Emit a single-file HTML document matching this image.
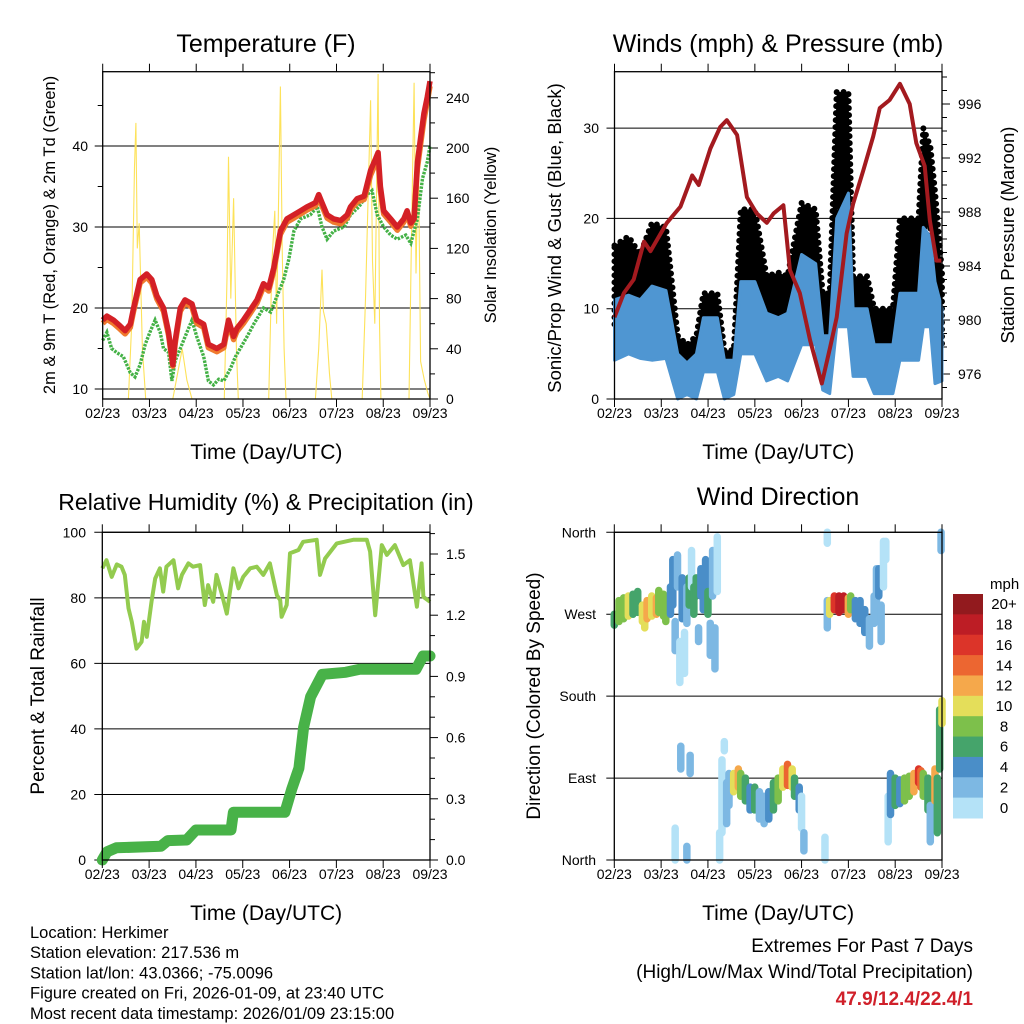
<!DOCTYPE html>
<html><head><meta charset="utf-8"><style>
html,body{margin:0;padding:0;background:#fff}
svg{display:block;font-family:"Liberation Sans",sans-serif}
</style></head><body>
<svg id="chart" width="1024" height="1024" viewBox="0 0 1024 1024">
<g id="layer"></g>
</svg>
<script>
// ---------- DATA ----------
const dayLabels=["02/23","03/23","04/23","05/23","06/23","07/23","08/23","09/23"];
const tRedDays=[0,.09,.23,.37,.48,.59,.66,.8,.94,1.05,1.16,1.3,1.41,1.5,1.55,1.66,1.76,1.91,2.01,2.16,2.26,2.44,2.59,2.69,2.8,2.87,3.01,3.16,3.3,3.44,3.55,3.66,3.8,3.94,4.09,4.23,4.37,4.55,4.62,4.69,4.8,4.94,5.09,5.23,5.3,5.44,5.59,5.73,5.84,5.89,5.94,6.01,6.16,6.3,6.44,6.51,6.59,6.66,6.73,6.8,6.87,6.94,7.0];
const tRedVals=[18.5,19,18.5,17.8,17.2,18,20,23.5,24.2,23.5,21.5,20,17,13,16,20,21,20.5,18.5,18,15.5,15,15.5,18.5,16.5,17.5,18.5,19.8,21,23,22.5,25,29.5,31,31.5,32,32.5,33,34,33,31.5,31,30.8,31.5,32.5,33.5,33.8,37,38.5,39.2,35,32,31,30,31,32,30.5,31,38,41,44,46,48];
const tOrangeVals=[18.1,18.6,18.1,17.4,16.8,17.6,19.6,23.1,23.8,23.1,21.1,19.6,16.6,12.8,15.6,19.6,20.6,20.1,18.1,17.6,15.1,14.6,15.1,18.1,16.1,17.1,18.1,19.4,20.6,22.6,22.1,24.6,29.1,30.6,31.1,31.6,32.1,32.6,33.6,32.6,31.1,30.6,30.4,31.1,32.1,33.1,33.4,36.4,37.9,38.4,34.4,31.6,30.6,29.6,30.6,31.6,30.1,31.4,37.2,40.2,43.2,45.4,47.4];
const tdDays=[0,.09,.19,.3,.44,.59,.69,.8,.91,1.01,1.12,1.23,1.3,1.41,1.48,1.55,1.66,1.8,1.91,2.01,2.16,2.26,2.37,2.48,2.59,2.73,2.84,2.94,3.09,3.23,3.44,3.59,3.73,3.87,3.98,4.09,4.23,4.44,4.59,4.69,4.8,4.94,5.16,5.3,5.48,5.66,5.76,5.87,6.01,6.16,6.3,6.48,6.59,6.73,6.84,6.94,7.0];
const tdVals=[16,17,15,14.5,14,12,11.5,13,15.5,17,18.5,17,15,14.5,11,13.5,15,17,18.5,16.5,14,11,10.5,11.2,11,12.5,14,15,16.5,18,20,19.5,21.5,23.5,26,29.5,31,31.5,32.5,30,28.5,29.5,30,31.5,32.5,34,34.5,31.5,30,29,28.5,29,28,31,36,38,40];
const solarDays=[0,.55,.62,.68,.71,.74,.78,.85,.92,1.5,1.6,1.7,1.8,1.91,2.6,2.66,2.69,2.74,2.8,2.86,2.9,3.55,3.62,3.68,3.72,3.8,3.84,3.88,3.92,4.55,4.62,4.69,4.72,4.78,4.85,4.9,5.55,5.62,5.73,5.77,5.82,5.89,5.92,5.95,6.55,6.6,6.66,6.7,6.75,6.8,6.88,6.95,7.0];
const solarVals=[0,0,60,185,220,120,140,40,0,0,20,40,15,0,0,100,193,80,160,40,0,0,110,150,60,249,120,40,0,0,40,103,70,60,20,0,0,80,238,110,60,259,60,0,0,120,252,100,200,30,15,5,0];
const windDays=[0,0.3,0.55,0.8,1.1,1.35,1.55,1.75,1.9,2.2,2.35,2.55,2.7,3.0,3.25,3.5,3.7,4.0,4.3,4.45,4.6,4.75,5.0,5.1,5.4,5.55,5.95,6.1,6.5,6.6,6.75,6.85,7.0];
const windLow=[4.3,5,4.5,4.3,4.5,0,0.5,0,3,3,0,0.5,5,5,2,2.5,2,6,6,1,0.6,8,8,2.5,2.5,0.6,0.6,4.3,4.3,8,8,1.7,2];
const windHigh=[11,11.5,11,12.5,12,5,4,5,9,9,4.3,4.3,13,13,9.5,9,9.5,16,15,7,7,20,22.8,10,10,6,6,11.7,11.7,19,18,13,10];
const gustLow=[8,9,8,10,10,0.6,1,0.6,6,6,2,2,11.7,11.7,6,6.5,6,8,8,2.5,2.5,21,21,4.3,4.3,2.5,2.5,8.8,8.8,19,19,8,6];
const gustHigh=[17,18,16,19.5,19,7,6,7,11.7,11.7,5.4,5.4,21,21,13.6,14,13.6,21.7,21,11.7,11.7,34,34,13.6,13.6,10,10,20,20,30,28,23,14];
const presDays=[0,.2,.41,.63,.77,1.12,1.41,1.66,1.8,2.05,2.26,2.4,2.62,2.83,3.04,3.255,3.4,3.61,3.75,3.96,4.18,4.43,4.61,4.75,4.96,5.1,5.32,5.53,5.67,5.88,6.1,6.31,6.45,6.63,6.74,6.88,6.99];
const presVals=[980.2,982,983,985.8,985.1,987.2,988.4,990.7,990,992.7,994.3,994.8,993.7,989.1,987.9,987.2,987.9,988.5,983.7,982,978.5,975.3,978,980.2,986.4,988.6,991.1,993.6,995.7,996.3,997.5,996,993.1,991.4,987.4,984.4,984.4];
const rhDays=[0,.09,.2,.31,.41,.48,.56,.63,.73,.84,.89,.95,1.05,1.13,1.23,1.30,1.37,1.52,1.62,1.70,1.84,1.94,2.09,2.19,2.26,2.37,2.44,2.55,2.66,2.80,2.91,3.01,3.16,3.30,3.44,3.58,3.73,3.80,3.83,3.94,4.01,4.19,4.29,4.58,4.65,4.76,5.01,5.36,5.65,5.72,5.83,5.97,6.08,6.25,6.43,6.57,6.72,6.82,6.86,7.0];
const rhVals=[89,91.5,86.4,90.2,89.5,87,76.8,72.7,64.5,66.6,72.7,68.1,78.8,85.9,89,81.9,89.5,91.5,82.9,87,90.5,89.5,90,77.8,83.9,78.8,87,81.3,75.2,89,82.9,86.4,89,89.5,87,90.5,80.8,79.3,74.2,77.8,93.6,94.6,97.1,97.7,87,92,96.6,97.7,97.7,94.1,74.7,96.1,93.1,96.1,90,91.5,77.3,90.5,80.3,78.8];
const prDays=[0,.1,.3,1.25,1.4,1.8,2.0,2.75,2.8,3.9,4.05,4.2,4.3,4.45,4.7,5.2,5.5,6.7,6.85,7.0];
const prVals=[0,.04,.06,.067,.095,.098,.147,.147,.234,.234,.35,.45,.65,.8,.91,.92,.935,.935,1.0,1.0];
const wdDays=[0,.1,.2,.3,.4,.5,.6,.65,.7,.8,.9,.95,1.05,1.1,1.2,1.25,1.3,1.35,1.4,1.45,1.5,1.55,1.6,1.65,1.7,1.75,1.8,1.85,1.9,1.95,2.0,2.05,2.1,2.15,2.2,2.35,2.3,2.4,2.45,2.55,2.65,2.7,2.8,2.9,3.0,3.1,3.2,3.3,3.4,3.5,3.6,3.7,3.8,3.85,3.95,4.0,4.05,4.55,4.6,4.7,4.8,4.9,5.0,5.05,5.15,5.25,5.35,5.45,5.55,5.6,5.65,5.7,5.75,1.3,1.55,2.25,4.5,4.55,5.85,5.9,6.0,6.1,6.2,6.3,6.4,6.5,6.55,6.6,6.7,6.75,6.85,6.9,6.95,7.0,6.98,5.8,1.42,1.62];
const wdLo=[258,262,265,268,270,272,262,255,265,268,270,272,268,262,270,280,230,300,195,265,205,260,280,300,270,290,240,290,275,300,270,225,290,210,295,120,30,40,60,75,80,70,65,55,55,45,40,45,55,65,80,82,80,70,55,35,10,255,270,275,272,275,270,275,265,260,250,235,260,280,290,240,300,0,0,0,0,348,20,50,60,62,65,70,75,85,80,70,55,20,65,30,100,150,340,330,100,95];
const wdHi=[270,285,288,290,292,295,280,275,285,290,288,296,292,285,300,330,262,335,240,310,250,300,310,340,300,310,255,320,300,330,295,260,340,255,355,130,110,85,95,95,100,95,90,80,80,75,70,75,85,90,100,105,100,90,80,70,30,285,285,290,290,290,288,290,285,285,275,265,290,320,320,280,350,35,15,30,25,360,70,95,90,88,90,92,95,100,98,95,90,60,100,90,165,175,360,350,125,115];
const wdSpd=[7,8,9,10,6,6,10,11,12,11,12,8,9,8,4,4,2,3,0,4,1,3,7,0,6,7,2,5,4,5,6,2,3,2,1,1,1,2,3,11,12,9,7,5,6,3,2,4,7,8,11,15,10,7,4,1,2,2,11,16,19,18,13,9,4,5,4,2,2,3,4,2,1,1,2,0,1,0,1,4,7,5,8,9,12,17,14,9,6,3,12,6,7,10,3,0,2,2];
const legendLabels=["20+","18","16","14","12","10","8","6","4","2","0"];
const speedColors=["#b4e2f7","#7db8e3","#4a8ec8","#45a46b","#7dc04b","#e4de5a","#f5a84b","#ec6631","#dc3429","#bd1d25","#921a1e"];

const NS="http://www.w3.org/2000/svg";
const root=document.getElementById('layer');
function mk(tag,attrs,parent){const e=document.createElementNS(NS,tag);for(const k in attrs)e.setAttribute(k,attrs[k]);(parent||root).appendChild(e);return e;}
function txt(s,attrs,parent){const e=mk('text',attrs,parent);e.textContent=s;return e;}
function pathFrom(xs,ys,fx,fy){let d='';for(let i=0;i<xs.length;i++){d+=(i?'L':'M')+fx(xs[i]).toFixed(1)+','+fy(ys[i]).toFixed(1);}return d;}
function bandPath(xs,lo,hi,fx,fy){let d='';for(let i=0;i<xs.length;i++)d+=(i?'L':'M')+fx(xs[i]).toFixed(1)+','+fy(hi[i]).toFixed(1);for(let i=xs.length-1;i>=0;i--)d+='L'+fx(xs[i]).toFixed(1)+','+fy(lo[i]).toFixed(1);return d+'Z';}
function speedColor(s){const i=Math.min(10,Math.max(0,Math.floor(s/2)));return speedColors[i];}

function frame(g,x0,x1,yT,yB){
  for(let i=0;i<dayLabels.length;i++){
    const x=x0+i*(x1-x0)/7;
    const t1=mk('line',{x1:x,y1:yT,x2:x,y2:yT-8,stroke:'#000','stroke-width':1},g);
    
    
    const t2=mk('line',{x1:x,y1:yB,x2:x,y2:yB+8,stroke:'#000','stroke-width':1},g);
    
    
    const l=txt(dayLabels[i],{x:x,y:yB+19,'font-size':14,'text-anchor':'middle'},g);
    
    
  }
  const r=mk('rect',{x:x0,y:yT,width:x1-x0,height:yB-yT,fill:'none',stroke:'#000','stroke-width':1.3},g);
  
  
  const t=txt('Time (Day/UTC)',{x:(x0+x1)/2,y:yB+60,'font-size':21,'text-anchor':'middle'},g);
  
  
}
function hgrid(g,x0,x1,y,label,lx){
  const l=mk('line',{x1:x0-8,y1:y,x2:x1,y2:y,stroke:'#000','stroke-width':1},g);
  
  
  const t=txt(label,{x:lx,y:y+5,'font-size':14,'text-anchor':'end'},g);
  
  
}
function rtick(g,x1,y,len,label){
  const l=mk('line',{x1:x1,y1:y,x2:x1+len,y2:y,stroke:'#000','stroke-width':1},g);
  
  
  if(label!==null){const t=txt(label,{x:x1+16,y:y+5,'font-size':14},g);
  
  }
}
function vtitle(g,s,x,y,size,name){
  const t=txt(s,{x:x,y:y,'font-size':size,'text-anchor':'middle',transform:'rotate(-90 '+x+' '+y+')'},g);
  
  
}
function title(g,s,x,y,size){
  const t=txt(s,{x:x,y:y,'font-size':size,'text-anchor':'middle'},g);
  
  
}

(function(){
  const x0=102.7,x1=430,yT=71.7,yB=399;
  const g=mk('g',{});
  
  
  const sx=d=>x0+d/7*(x1-x0);
  const sy=v=>389-(v-10)*8.1;
  const sw=w=>yB-w*1.255;
  title(g,'Temperature (F)',266,52,25);
  [10,20,30,40].forEach(v=>hgrid(g,x0,x1,sy(v),String(v),88));
  [15,25,35,45].forEach(v=>{const l=mk('line',{x1:x0-5,y1:sy(v),x2:x0,y2:sy(v),stroke:'#000'},g);
    });
  for(let w=0;w<=260;w+=20)rtick(g,x1,sw(w),w%40===0?8:5,w%40===0?String(w):null);
  const sol=mk('path',{d:pathFrom(solarDays,solarVals,sx,sw),fill:'none',stroke:'#fde25a','stroke-width':1.1},g);
  
  
  const td=mk('path',{d:pathFrom(tdDays,tdVals,sx,sy),fill:'none',stroke:'#44b146','stroke-width':3.4,'stroke-dasharray':'2.5 1.2'},g);
  
  
  const or=mk('path',{d:pathFrom(tRedDays,tOrangeVals,sx,sy),fill:'none',stroke:'#f07a2e','stroke-width':5.5,'stroke-linejoin':'round'},g);
  
  
  const rd=mk('path',{d:pathFrom(tRedDays,tRedVals,sx,sy),fill:'none',stroke:'#d42026','stroke-width':5.5,'stroke-linejoin':'round'},g);
  
  
  frame(g,x0,x1,yT,yB);
  vtitle(g,'2m & 9m T (Red, Orange) & 2m Td (Green)',55,235,16.5,'y-axis-title');
  vtitle(g,'Solar Insolation (Yellow)',496,235,16.5,'right-axis-title');
})();

(function(){
  const x0=614.5,x1=942,yT=71.7,yB=399;
  const g=mk('g',{});
  
  
  const sx=d=>x0+d/7*(x1-x0);
  const sy=v=>yB-v*9.03;
  const sp=p=>374-(p-976)*13.5;
  title(g,'Winds (mph) & Pressure (mb)',778,52,25);
  [0,10,20,30].forEach(v=>hgrid(g,x0,x1,sy(v),String(v),599));
  for(let p=975;p<=998;p++)rtick(g,x1,sp(p),p%4===0?8:5,p%4===0?String(p):null);
  const gb=mk('path',{d:bandPath(windDays,gustLow,gustHigh,sx,sy),fill:'#000',stroke:'#000','stroke-width':6,'stroke-dasharray':'0 7','stroke-linecap':'round','stroke-linejoin':'round'},g);
  
  
  const wb=mk('path',{d:bandPath(windDays,windLow,windHigh,sx,sy),fill:'#4f96d2',stroke:'#4f96d2','stroke-width':3,'stroke-linejoin':'round'},g);
  
  
  const pr=mk('path',{d:pathFrom(presDays,presVals,sx,sp),fill:'none',stroke:'#a31a1f','stroke-width':4,'stroke-linejoin':'round'},g);
  
  
  frame(g,x0,x1,yT,yB);
  vtitle(g,'Sonic/Prop Wind & Gust (Blue, Black)',561,238,18.5,'y-axis-title');
  vtitle(g,'Station Pressure (Maroon)',1014,235,18.5,'right-axis-title');
})();

(function(){
  const x0=102.3,x1=430,yT=532.3,yB=860;
  const g=mk('g',{});
  
  
  const sx=d=>x0+d/7*(x1-x0);
  const sy=v=>yB-v*3.277;
  const si=v=>yB-v*204;
  title(g,'Relative Humidity (%) & Precipitation (in)',266,510,23);
  [0,20,40,60,80,100].forEach(v=>hgrid(g,x0,x1,sy(v),String(v),86));
  for(let k=0;k<=16;k++)rtick(g,x1,si(k/10),k%3===0?8:5,k%3===0?(k/10).toFixed(1):null);
  const rh=mk('path',{d:pathFrom(rhDays,rhVals,sx,sy),fill:'none',stroke:'#93cb4f','stroke-width':4,'stroke-linejoin':'round'},g);
  
  
  const pc=mk('path',{d:pathFrom(prDays,prVals,sx,si),fill:'none',stroke:'#48b248','stroke-width':11,'stroke-linejoin':'round','stroke-linecap':'round'},g);
  
  
  frame(g,x0,x1,yT,yB);
  vtitle(g,'Percent & Total Rainfall',44,696,19,'y-axis-title');
})();

(function(){
  const x0=614.3,x1=942,yT=532.3,yB=860;
  const g=mk('g',{});
  
  
  const sx=d=>x0+d/7*(x1-x0);
  const sy=v=>yB-v*(yB-yT)/360;
  title(g,'Wind Direction',778,505,25);
  [[0,'North'],[90,'East'],[180,'South'],[270,'West'],[360,'North']].forEach(p=>hgrid(g,x0,x1,sy(p[0]),p[1],596));
  for(let i=0;i<wdDays.length;i++){
    const x=sx(wdDays[i]);
    const c=mk('line',{x1:x,y1:sy(wdLo[i]),x2:x,y2:sy(wdHi[i]),stroke:speedColor(wdSpd[i]),'stroke-width':7.5,'stroke-linecap':'round'},g);
    
    
  }
  frame(g,x0,x1,yT,yB);
  vtitle(g,'Direction (Colored By Speed)',540,696,19,'y-axis-title');
  const lg=mk('g',{},g);
  
  
  const mt=txt('mph',{x:990,y:589,'font-size':15},lg);
  
  
  const bh=(818-594)/legendLabels.length;
  for(let i=0;i<legendLabels.length;i++){
    const y=594+i*bh;
    const r=mk('rect',{x:953,y:y,width:30,height:bh+0.5,fill:speedColors[10-i]},lg);
    
    
    const t=txt(legendLabels[i],{x:1004,y:y+bh/2+5,'font-size':15,'text-anchor':'middle'},lg);
    
    
  }
})();

(function(){
  const info=["Location: Herkimer","Station elevation: 217.536 m","Station lat/lon: 43.0366; -75.0096","Figure created on Fri, 2026-01-09, at 23:40 UTC","Most recent data timestamp: 2026/01/09 23:15:00"];
  const g=mk('g',{});
  
  
  info.forEach((s,i)=>{const t=txt(s,{x:30,y:938+i*20.2,'font-size':16.5},g);
    });
  const g2=mk('g',{});
  
  
  const a=txt('Extremes For Past 7 Days',{x:973,y:952,'font-size':19,'text-anchor':'end'},g2);
  
  const b=txt('(High/Low/Max Wind/Total Precipitation)',{x:973,y:978,'font-size':19,'text-anchor':'end'},g2);
  
  const c=txt('47.9/12.4/22.4/1',{x:973,y:1005,'font-size':19,'font-weight':'bold',fill:'#d0202a','text-anchor':'end'},g2);
  
})();
</script>
</body></html>
